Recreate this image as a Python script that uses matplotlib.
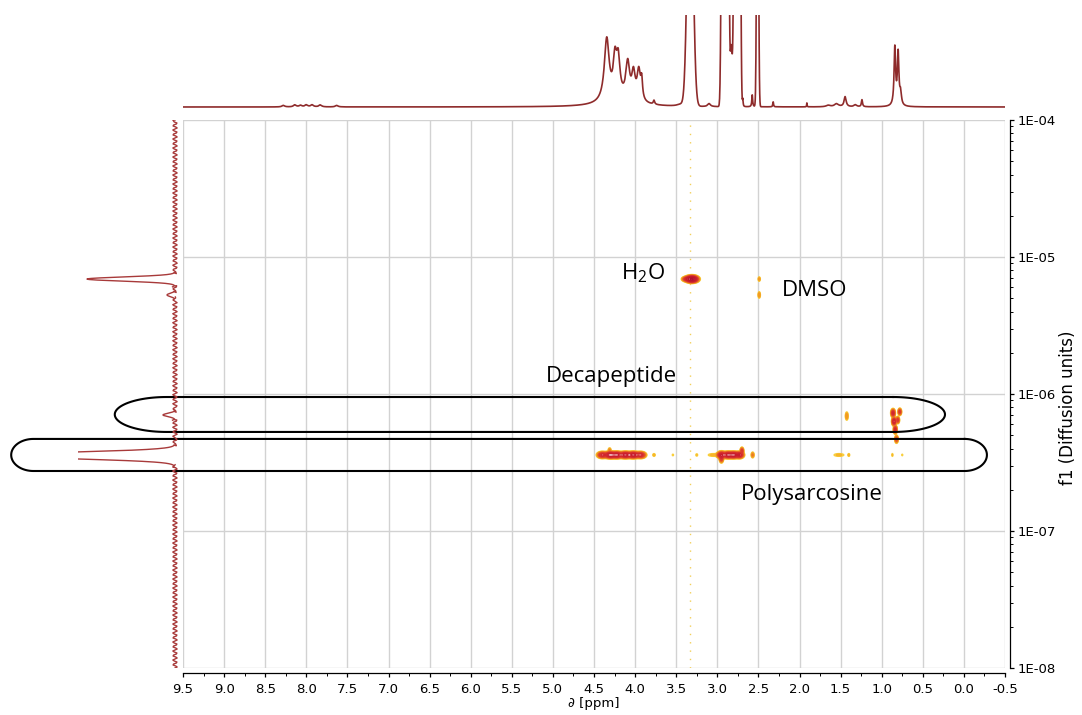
import numpy as np
import matplotlib
matplotlib.use("Agg")
import matplotlib.pyplot as plt
from matplotlib.ticker import MultipleLocator, LogLocator, NullFormatter, FixedLocator, FixedFormatter

plt.rcParams['mathtext.default'] = 'regular'

# ---------------- data ----------------
x_ticks = [9.5, 9.0, 8.5, 8.0, 7.5, 7.0, 6.5, 6.0, 5.5, 5.0, 4.5, 4.0, 3.5,
           3.0, 2.5, 2.0, 1.5, 1.0, 0.5, 0.0, -0.5]
x_tick_labels = ['9.5', '9.0', '8.5', '8.0', '7.5', '7.0', '6.5', '6.0', '5.5', '5.0',
                 '4.5', '4.0', '3.5', '3.0', '2.5', '2.0', '1.5', '1.0', '0.5', '0.0', '-0.5']
y_ticks = [1e-4, 1e-5, 1e-6, 1e-7, 1e-8]
y_tick_labels = ['1E-04', '1E-05', '1E-06', '1E-07', '1E-08']

# 1D 1H projection (top): Lorentzian lines (ppm, height, half width)
top_lor_ppm = [4.20, 4.345, 4.245, 4.205, 4.09, 4.02, 3.955, 3.92, 3.77, 3.10, 3.45,
               2.69, 2.575, 2.32, 1.91, 1.65, 1.55, 1.445, 1.32, 1.24, 0.84, 0.80, 0.77,
               8.28, 8.14, 8.07, 8.00, 7.93, 7.83, 7.63]
top_lor_h = [6, 62, 36, 36, 36, 26, 30, 18, 4, 3, 2,
             8, 12, 5, 4, 1.5, 3, 10, 2, 7, 58, 52, 12,
             1.5, 2, 1.5, 2, 2, 2, 1.5]
top_lor_w = [0.22, 0.035, 0.025, 0.025, 0.028, 0.025, 0.025, 0.012, 0.01, 0.02, 0.05,
             0.005, 0.006, 0.005, 0.003, 0.03, 0.03, 0.015, 0.02, 0.008, 0.011, 0.011, 0.012,
             0.02, 0.02, 0.02, 0.02, 0.02, 0.02, 0.02]
# saturated lines (Gaussian): water, polysarcosine N-CH3 / CH2 multiplet, DMSO
top_gau_ppm = [3.33, 2.94, 2.905, 2.87, 2.83, 2.79, 2.755, 2.725, 2.51]
top_gau_h = [280, 300, 300, 300, 60, 250, 300, 300, 400]
top_gau_s = [0.033, 0.012, 0.012, 0.012, 0.012, 0.012, 0.012, 0.010, 0.010]

# diffusion projection (left): (log10 D, height, width)
left_logd = [-5.161, -5.277, -6.153, -6.449]
left_h = [88, 8, 12, 180]
left_s = [0.015, 0.012, 0.012, 0.023]

# DOSY cross peaks: ppm, log10 D, width ppm, width logD, amplitude
pk_ppm = [3.31, 3.38, 2.49, 2.49,
          1.425, 0.862, 0.850, 0.835, 0.820, 0.780, 0.805,
          4.40, 4.30, 4.22, 4.12, 4.02, 3.93, 4.31,
          3.77, 3.54, 3.25, 3.05,
          2.95, 2.95, 2.87, 2.80, 2.73, 2.70, 2.57,
          1.52, 1.40, 0.87, 0.75]
pk_logd = [-5.161, -5.161, -5.161, -5.277,
           -6.161, -6.139, -6.200, -6.260, -6.330, -6.130, -6.190,
           -6.445, -6.445, -6.445, -6.445, -6.445, -6.445, -6.410,
           -6.445, -6.445, -6.445, -6.445,
           -6.445, -6.470, -6.445, -6.445, -6.445, -6.415, -6.445,
           -6.445, -6.445, -6.445, -6.445]
pk_sppm = [0.035, 0.025, 0.008, 0.008,
           0.010, 0.012, 0.012, 0.010, 0.010, 0.010, 0.010,
           0.030, 0.035, 0.030, 0.035, 0.035, 0.030, 0.010,
           0.012, 0.008, 0.010, 0.050,
           0.025, 0.012, 0.030, 0.030, 0.025, 0.010, 0.010,
           0.050, 0.008, 0.006, 0.006]
pk_slogd = [0.011, 0.008, 0.010, 0.014,
            0.018, 0.014, 0.014, 0.014, 0.014, 0.012, 0.012,
            0.011, 0.011, 0.011, 0.011, 0.011, 0.011, 0.010,
            0.008, 0.006, 0.008, 0.008,
            0.012, 0.015, 0.011, 0.011, 0.011, 0.012, 0.012,
            0.008, 0.008, 0.010, 0.006]
pk_amp = [12, 2, 0.5, 0.6,
          0.6, 3, 4, 3, 1.5, 2, 2,
          3, 6, 5, 5, 5, 3, 0.6,
          0.3, 0.22, 0.25, 0.3,
          4, 2, 5, 5, 4, 2, 0.7,
          0.3, 0.3, 0.25, 0.22]

water_ppm = 3.33

# annotation regions (ppm left, ppm right, logD top, logD bottom, end radius ppm)
region_ppm_left = [10.33, 11.59]
region_ppm_right = [0.23, -0.28]
region_logd_top = [-6.022, -6.328]
region_logd_bot = [-6.277, -6.562]
region_end_r = [0.63, 0.27]

# ---------------- figure ----------------
W, H = 1082, 715
fig = plt.figure(figsize=(W / 100, H / 100), dpi=100)


def fr(x0, y0, x1, y1):
    return [x0 / W, 1 - y1 / H, (x1 - x0) / W, (y1 - y0) / H]


ax = fig.add_axes(fr(183, 120, 1005, 668))
ax_top = fig.add_axes(fr(183, 15, 1005, 112), sharex=ax)
ax_left = fig.add_axes(fr(78, 120, 180, 668), sharey=ax)

ax.set_yscale('log')
ax.set_xlim(9.5, -0.5)
ax.set_ylim(1e-8, 1e-4)

# grid / frame
ax.xaxis.set_major_locator(FixedLocator(x_ticks))
ax.xaxis.set_major_formatter(FixedFormatter(x_tick_labels))
ax.xaxis.set_minor_locator(MultipleLocator(0.25))
ax.yaxis.set_major_locator(FixedLocator(y_ticks))
ax.yaxis.set_major_formatter(FixedFormatter(y_tick_labels))
ax.yaxis.set_minor_locator(LogLocator(base=10, subs=np.arange(2, 10)))
ax.yaxis.set_minor_formatter(NullFormatter())
ax.grid(True, which='major', color='#d2d2d2', lw=1.0)
ax.set_axisbelow(True)
ax.yaxis.tick_right()
ax.yaxis.set_label_position('right')
for s in ['top', 'left']:
    ax.spines[s].set_visible(False)
for s in ['bottom', 'right']:
    ax.spines[s].set_position(('outward', 3.8))
    ax.spines[s].set_linewidth(0.9)
ax.tick_params(which='major', length=3.2, width=0.9, labelsize=9.5, direction='out')
ax.tick_params(axis='x', which='major', pad=4)
ax.tick_params(axis='y', which='major', pad=2)
ax.tick_params(which='minor', length=1.8, width=0.7)

ax.set_xlabel('∂ [ppm]', fontsize=9.5)
ax.xaxis.set_label_coords(0.5, -0.053)
ax.set_ylabel('f1 (Diffusion units)', fontsize=12)
ax.yaxis.set_label_coords(1.066, 0.475)

# contour map
ppm_grid = np.linspace(-0.5, 9.5, 2600)
logd_grid = np.linspace(-8, -4, 1400)
Z = np.zeros((logd_grid.size, ppm_grid.size))
for p, d, sp, sd, a in zip(pk_ppm, pk_logd, pk_sppm, pk_slogd, pk_amp):
    gx = np.exp(-0.5 * ((ppm_grid - p) / sp) ** 2)
    gy = np.exp(-0.5 * ((logd_grid - d) / sd) ** 2)
    Z += a * np.outer(gy, gx)
levels = 0.15 * 1.6 ** np.arange(12)
level_colors = ['#f9cf3c', '#f7b52a', '#f29a22', '#ec7a22', '#e4552a', '#db3a2c',
                '#d2262d', '#c81d2e', '#bd162e', '#b3122e', '#a80f2d', '#9e0d2b']
ax.contour(ppm_grid, 10 ** logd_grid, Z, levels=levels, colors=level_colors,
           linewidths=1.1)

ax.axvline(water_ppm, color='#f2cf5a', lw=1.0, ls=(0, (1, 5)), zorder=1)

# region outlines
for xl, xr, yt, yb, r in zip(region_ppm_left, region_ppm_right, region_logd_top,
                             region_logd_bot, region_end_r):
    yc = 0.5 * (yt + yb)
    ry = 0.5 * (yt - yb)
    uL, uR = -xl, -xr
    th1 = np.linspace(np.pi / 2, -np.pi / 2, 60)
    th2 = np.linspace(-np.pi / 2, -3 * np.pi / 2, 60)
    u = np.concatenate([uR - r + r * np.cos(th1), uL + r + r * np.cos(th2), [uR - r]])
    v = np.concatenate([yc + ry * np.sin(th1), yc + ry * np.sin(th2), [yt]])
    ax.plot(-u, 10 ** v, color='black', lw=1.5, clip_on=False, zorder=5)

# labels
tf = dict(family='Open Sans', fontsize=16, ha='center', va='center')
ax.text(3.90, 10 ** -5.117, 'H$_2$O', **tf)
ax.text(1.82, 10 ** -5.248, 'DMSO', **tf)
ax.text(4.29, 10 ** -5.869, 'Decapeptide', **tf)
ax.text(1.85, 10 ** -6.730, 'Polysarcosine', **tf)

# top 1D spectrum
xs = np.linspace(-0.5, 9.5, 6000)
spec = np.zeros_like(xs)
for p, h, w in zip(top_lor_ppm, top_lor_h, top_lor_w):
    spec += h / (1 + ((xs - p) / w) ** 2)
for p, h, s in zip(top_gau_ppm, top_gau_h, top_gau_s):
    spec += h * np.exp(-0.5 * ((xs - p) / s) ** 2)
ax_top.plot(xs, spec, color='#8e2b2b', lw=1.2)
ax_top.set_ylim(-5, 92)
ax_top.axis('off')

# left diffusion projection: noisy baseline drawn with a zig-zag sketch style
ld = np.linspace(-8, -4, 3000)
proj = np.zeros_like(ld)
for d, h, s in zip(left_logd, left_h, left_s):
    proj += h * np.exp(-0.5 * ((ld - d) / s) ** 2)
peak = proj >= 0.8
peak_d = peak | np.roll(peak, 1) | np.roll(peak, -1)
base = ~peak
base_d = base | np.roll(base, 1) | np.roll(base, -1)
ln, = ax_left.plot(np.where(base_d, proj, np.nan), 10 ** ld, color='#a83a3a', lw=1.0)
ln.set_sketch_params(scale=2.2, length=4.5, randomness=1.0)
ax_left.plot(np.where(peak_d, proj, np.nan), 10 ** ld, color='#a83a3a', lw=1.0)
ax_left.set_xlim(97, -5)
ax_left.axis('off')
ax_left.set_facecolor('none')
ax_top.set_facecolor('none')

fig.savefig('out.png', dpi=100)
